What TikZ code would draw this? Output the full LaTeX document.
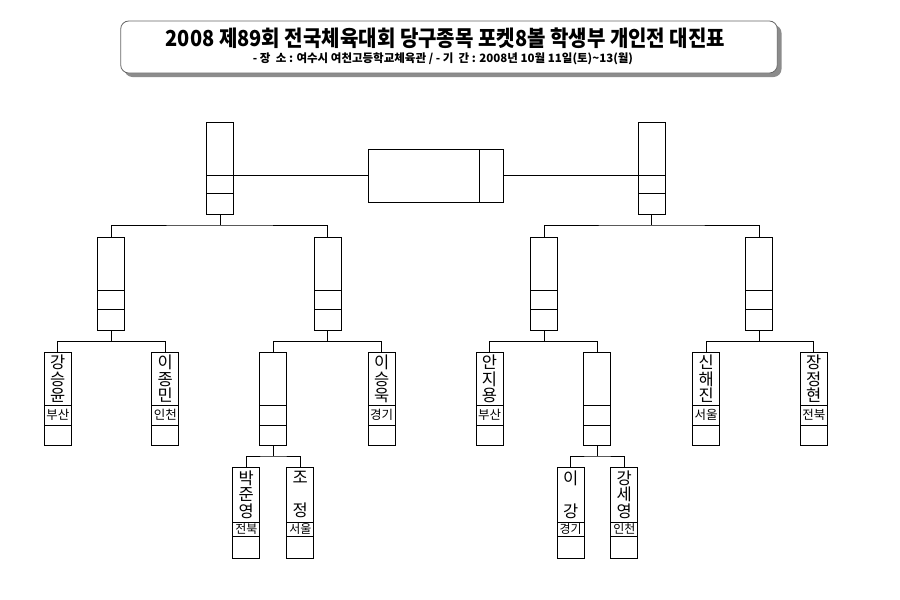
\documentclass[tikz,border=0pt]{standalone}
\usepackage{fontspec}
\newfontfamily\kr{Noto Sans CJK KR}
\newcommand{\matchbox}[6]{% name, cx, top, bot, d1, d2
  \node[bx, minimum height={#4-#3}] (#1) at (#2,{(#3+#4)/2}) {};
  \draw[dv] ({#2-13.5},#5) -- ({#2+13.5},#5);
  \draw[dv] ({#2-13.5},#6) -- ({#2+13.5},#6);
}
\newcommand{\player}[8]{% name, cx, top, bot, d1, d2, text, region
  \matchbox{#1}{#2}{#3}{#4}{#5}{#6}
  \node[nm] (#1n) at (#2,{(#3+#5)/2}) {#7};
  \node[rg] (#1r) at (#2,{(#5+#6)/2}) {#8};
}
\begin{document}
\begin{tikzpicture}[x=1pt,y=-1pt,
  bx/.style={draw=black, line width=1pt, minimum width=27pt, inner sep=0pt, outer sep=0pt},
  dv/.style={draw=black, line width=0.9pt},
  ln/.style={draw=black, line width=0.8pt},
  nm/.style={font=\kr\fontsize{16.5}{16.5}\selectfont, align=center, inner sep=0pt},
  rg/.style={font=\kr\fontsize{12.5}{12.5}\selectfont, inner sep=0pt}]
\useasboundingbox (0,0) rectangle (900,600);
\fill[white] (0,0) rectangle (900,600);

% title box with shadow
\fill[black!45, rounded corners=8pt] (124.5,25) rectangle (781.5,77);
\node[draw=black!60, line width=0.8pt, fill=white, rounded corners=8pt,
      minimum width=656.6pt, minimum height=52pt, inner sep=0pt] (titlebox) at (449,47) {};
\node[font=\kr\bfseries\fontsize{22}{22}\selectfont, inner sep=0pt] (title) at (445.5,38.5)
  {\scalebox{0.91}[1]{2008 제89회 전국체육대회 당구종목 포켓8볼 학생부 개인전 대진표}};
\node[font=\kr\bfseries\fontsize{11.5}{12}\selectfont, inner sep=0pt] (sub) at (443,59)
  {- 장\ \ 소 : 여수시 여천고등학교체육관 / - 기\ \ 간 : 2008년 10월 11일(토)\textasciitilde13(월)};

% final
\node[bx, minimum width=135pt, minimum height=53pt] (F) at (435.8,175.8) {};
\draw[dv] (479.3,149.3) -- (479.3,202.3);

% top boxes
\matchbox{T1}{220}{122}{214}{175}{193}
\matchbox{T2}{651.5}{122}{214}{175}{193}

% semis
\matchbox{L1}{111.2}{237.3}{330}{290}{309.5}
\matchbox{L2}{327.5}{237.3}{330}{290}{309.5}
\matchbox{R1}{544}{237.3}{330}{290}{309.5}
\matchbox{R2}{759.3}{237.3}{330}{290}{309.5}

% row 1
\player{p1}{57.8}{352.7}{445}{405}{425}{강\\승\\윤}{부산}
\player{p2}{165.3}{352.7}{445}{405}{425}{이\\종\\민}{인천}
\matchbox{Q1}{273.3}{352.7}{445}{405}{425}
\player{p3}{381.7}{352.7}{445}{405}{425}{이\\승\\욱}{경기}
\player{p4}{489.5}{352.7}{445}{405}{425}{안\\지\\용}{부산}
\matchbox{Q2}{597.3}{352.7}{445}{405}{425}
\player{p5}{706.2}{352.7}{445}{405}{425}{신\\해\\진}{서울}
\player{p6}{813.8}{352.7}{445}{405}{425}{장\\정\\현}{전북}

% row 2
\begin{scope}[rg/.append style={font=\kr\fontsize{12}{12}\selectfont}]
\player{p7}{246.3}{467.5}{558.5}{522}{536}{박\\준\\영}{전북}
\player{p8}{300.3}{467.5}{558.5}{522}{536}{조\\\phantom{조}\\정}{서울}
\player{p9}{570.7}{467.5}{558.5}{522}{536}{이\\\phantom{이}\\강}{경기}
\player{p10}{624.3}{467.5}{558.5}{522}{536}{강\\세\\영}{인천}
\end{scope}

% connectors
\draw[ln] (T1.east |- F.west) -- (F.west);
\draw[ln] (F.east) -- (T2.west |- F.east);

\draw[ln] (T1.south) -- ++(0,11) coordinate (jT1);
\draw[ln] (L1.north) |- (jT1) -| (L2.north);
\draw[ln] (T2.south) -- ++(0,11) coordinate (jT2);
\draw[ln] (R1.north) |- (jT2) -| (R2.north);

\draw[ln] (L1.south) -- ++(0,11.5) coordinate (jL1);
\draw[ln] (p1.north) |- (jL1) -| (p2.north);
\draw[ln] (L2.south) -- ++(0,11.5) coordinate (jL2);
\draw[ln] (Q1.north) |- (jL2) -| (p3.north);
\draw[ln] (R1.south) -- ++(0,11.5) coordinate (jR1);
\draw[ln] (p4.north) |- (jR1) -| (Q2.north);
\draw[ln] (R2.south) -- ++(0,11.5) coordinate (jR2);
\draw[ln] (p5.north) |- (jR2) -| (p6.north);

\draw[ln] (Q1.south) -- ++(0,11) coordinate (jQ1);
\draw[ln] (p7.north) |- (jQ1) -| (p8.north);
\draw[ln] (Q2.south) -- ++(0,11) coordinate (jQ2);
\draw[ln] (p9.north) |- (jQ2) -| (p10.north);
\end{tikzpicture}
\end{document}
